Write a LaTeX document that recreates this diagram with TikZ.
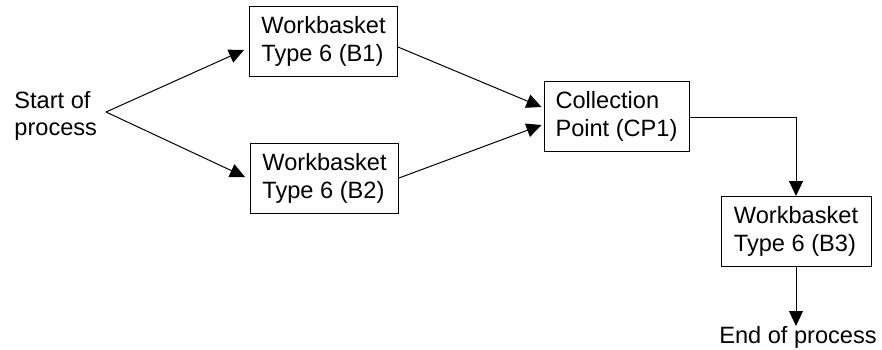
\documentclass[tikz,border=0pt]{standalone}
\usepackage{fontspec}
\setmainfont{Liberation Sans}
\usetikzlibrary{arrows.meta,calc}
\begin{document}
\begin{tikzpicture}[x=0.5pt,y=-0.5pt,
  every node/.style={font=\fontsize{11.8}{13.9}\selectfont},
  stepbox/.style={draw,line width=0.5pt,minimum width=74pt,minimum height=35pt,
    align=left,inner sep=0pt},
  plain/.style={align=left,inner sep=0pt},
  flow/.style={line width=0.5pt,-{Triangle[length=7.5pt,width=7pt]}}]
\useasboundingbox (0,0) rectangle (882,349);

% process steps
\node[stepbox] (b1) at (323.5,41.5) {Workbasket\\Type 6 (B1)};
\node[stepbox] (b2) at (324.5,178) {Workbasket\\Type 6 (B2)};
\node[stepbox,minimum width=72.5pt] (cp1) at (616.5,116) {Collection\\Point (CP1)};
\node[stepbox,minimum width=75pt] (b3) at (796,231.5) {Workbasket\\Type 6 (B3)};

% start and end labels
\node[plain,anchor=west] (start) at (14,116) {Start of\\process};
\node[plain,anchor=north] (end) at (798,326) {End of process};
\coordinate (fork) at (106,112);

% connectors
\draw[flow] (fork) -- ($(b1.west)+(-5,8.5)$);
\draw[flow] (fork) -- ($(b2.west)+(-5,-1)$);
\draw[flow] ($(b1.east)+(0,5.5)$) -- ($(cp1.west)+(-2,-9)$);
\draw[flow] (b2.east) -- ($(cp1.west)+(-2,9)$);
\draw[flow] ($(cp1.east)+(0,1)$) -| (b3.north);
\draw[flow] (b3.south) -- (b3.south |- end.north);
\end{tikzpicture}
\end{document}
